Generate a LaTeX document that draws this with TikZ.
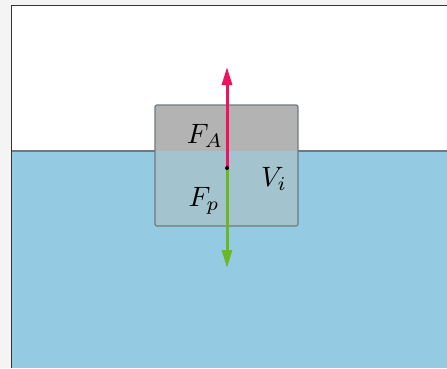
\documentclass[tikz,border=0pt]{standalone}
\usetikzlibrary{arrows.meta}
\definecolor{water}{HTML}{95CBE2}
\definecolor{blockair}{HTML}{B3B3B3}
\definecolor{blockwater}{HTML}{A3C4CF}
\definecolor{forceup}{HTML}{F0125C}
\definecolor{forcedown}{HTML}{6BB823}
\definecolor{edgegray}{HTML}{6E7A80}
\definecolor{bgshadecol}{HTML}{F4F4F4}
\tikzset{
  force/.style={line width=3pt, -{Triangle[length=18pt,width=10pt]}},
  lbl/.style={font=\normalsize, inner sep=0pt, scale=2.8}
}
\begin{document}
\begin{tikzpicture}[x=1pt,y=-1pt]
\useasboundingbox (0,0) rectangle (447,368);
\fill[bgshadecol] (0,0) rectangle (447,368);
\fill[white] (11,5) rectangle (447,368);
\fill[water] (11,151) rectangle (447,368);
\draw[edgegray, line width=1.5pt] (11,151) -- (447,151);
\draw[black!80, line width=1.2pt] (11.5,368) -- (11.5,5.5) -- (447,5.5);
% block
\begin{scope}
\clip[rounded corners=2pt] (155,105) rectangle (298,226);
\fill[blockair] (155,105) rectangle (298,151);
\fill[blockwater] (155,151) rectangle (298,226);
\end{scope}
\draw[edgegray, line width=1.2pt, rounded corners=2pt] (155,105) rectangle (298,226);
\coordinate (c) at (227,168);
\coordinate (up) at (227,67);
\coordinate (down) at (227,268);
\draw[force, forceup] (c) -- (up);
\draw[force, forcedown] (c) -- (down);
\fill[black] (c) circle (2pt);
\node[lbl] (fa) at (205,136) {$F_A$};
\node[lbl] (fp) at (204,201) {$F_p$};
\node[lbl] (vi) at (274,179) {$V_i$};
\end{tikzpicture}
\end{document}
